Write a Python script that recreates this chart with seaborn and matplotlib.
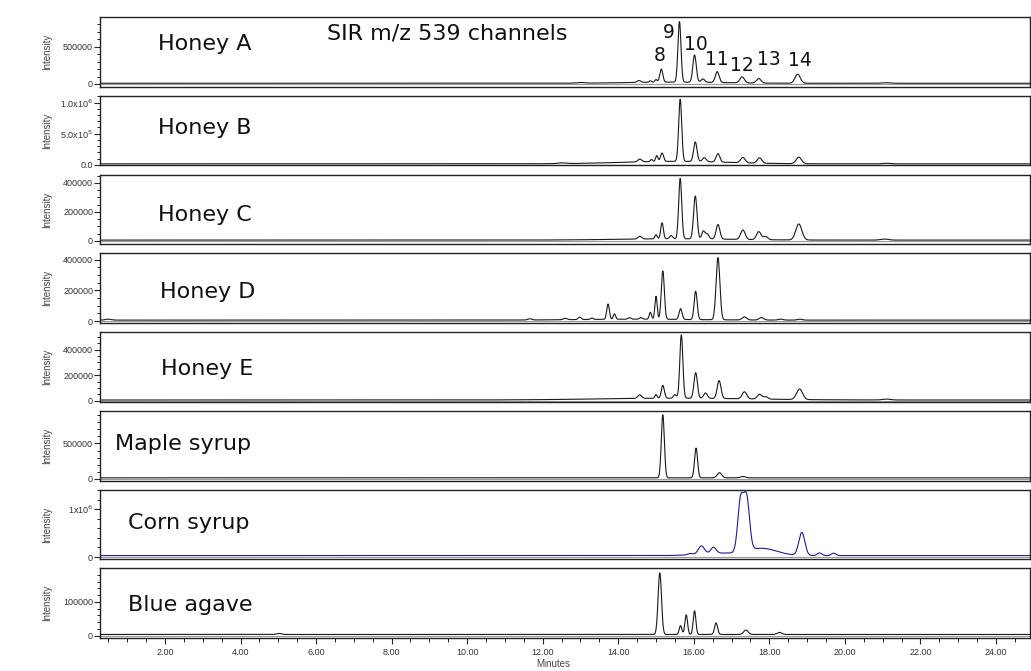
import matplotlib
matplotlib.use("Agg")
import matplotlib.pyplot as plt
import numpy as np
import pandas as pd
import seaborn as sns
from matplotlib.ticker import MultipleLocator, FixedLocator, FixedFormatter, FormatStrFormatter


# sample names, top to bottom
samples = ["Honey A", "Honey B", "Honey C", "Honey D", "Honey E",
           "Maple syrup", "Corn syrup", "Blue agave"]

# peak tables: retention time (min), height, width (min)
honey_a_rt = [13.0, 14.55, 14.85, 15.0, 15.14, 15.62, 16.02, 16.24, 16.62, 17.28, 17.72, 18.75, 21.1, 15.5]
honey_a_h = [8000, 25000, 20000, 35000, 175000, 810000, 365000, 45000, 145000, 80000, 60000, 120000, 7000, 15000]
honey_a_w = [0.1, 0.05, 0.03, 0.03, 0.04, 0.04, 0.045, 0.05, 0.05, 0.06, 0.06, 0.07, 0.1, 1.2]

honey_b_rt = [12.5, 14.57, 14.88, 15.02, 15.16, 15.64, 16.04, 16.28, 16.64, 17.30, 17.74, 18.78, 21.1, 15.5]
honey_b_h = [12000, 45000, 35000, 95000, 135000, 1000000, 315000, 65000, 135000, 85000, 85000, 105000, 9000, 40000]
honey_b_w = [0.1, 0.05, 0.03, 0.03, 0.04, 0.04, 0.045, 0.05, 0.05, 0.06, 0.06, 0.07, 0.1, 1.4]

honey_c_rt = [14.57, 15.0, 15.16, 15.4, 15.64, 16.04, 16.25, 16.35, 16.64, 17.30, 17.72, 17.9, 18.78, 21.05, 15.5]
honey_c_h = [18000, 28000, 110000, 22000, 415000, 295000, 50000, 35000, 100000, 65000, 55000, 22000, 110000, 7000, 9000]
honey_c_w = [0.05, 0.03, 0.035, 0.04, 0.04, 0.045, 0.04, 0.05, 0.05, 0.06, 0.06, 0.06, 0.08, 0.1, 1.5]

honey_d_rt = [0.5, 11.66, 12.6, 12.98, 13.3, 13.73, 13.9, 14.3, 14.6, 14.85, 15.0, 15.18, 15.65, 16.05,
              16.64, 17.34, 17.79, 18.3, 18.8, 14.5]
honey_d_h = [6000, 8000, 9000, 16000, 9000, 100000, 35000, 10000, 10000, 45000, 150000, 315000, 70000, 185000,
             405000, 20000, 16000, 6000, 6000, 6000]
honey_d_w = [0.08, 0.05, 0.05, 0.04, 0.04, 0.035, 0.03, 0.04, 0.04, 0.03, 0.03, 0.04, 0.04, 0.04,
             0.05, 0.06, 0.06, 0.06, 0.06, 1.5]

honey_e_rt = [14.57, 15.0, 15.18, 15.5, 15.67, 16.05, 16.31, 16.67, 17.34, 17.74, 17.9, 18.8, 21.1, 15.5]
honey_e_h = [28000, 28000, 100000, 28000, 495000, 200000, 42000, 140000, 55000, 36000, 18000, 82000, 7000, 14000]
honey_e_w = [0.05, 0.03, 0.04, 0.04, 0.04, 0.045, 0.05, 0.05, 0.06, 0.06, 0.06, 0.08, 0.1, 2.0]

maple_rt = [15.18, 16.06, 16.68, 17.30]
maple_h = [890000, 420000, 72000, 18000]
maple_w = [0.04, 0.04, 0.06, 0.06]

corn_rt = [15.9, 16.2, 16.52, 16.6, 17.24, 17.40, 17.8, 18.86, 19.33, 19.70]
corn_h = [25000, 165000, 125000, 50000, 1080000, 1080000, 150000, 480000, 55000, 50000]
corn_w = [0.06, 0.08, 0.07, 0.5, 0.075, 0.075, 0.4, 0.08, 0.06, 0.06]

agave_rt = [5.02, 15.10, 15.65, 15.80, 16.02, 16.59, 17.38, 18.27]
agave_h = [3000, 182000, 26000, 58000, 70000, 34000, 13000, 6000]
agave_w = [0.06, 0.045, 0.035, 0.035, 0.035, 0.04, 0.06, 0.06]

baselines = [10000, 15000, 6000, 6000, 6000, 15000, 30000, 4000]

# numbered peaks on Honey A
peak_numbers = ["8", "9", "10", "11", "12", "13", "14"]

# y axis ticks per panel
y_ticks = [[0, 500000], [0, 500000, 1000000], [0, 200000, 400000], [0, 200000, 400000],
           [0, 200000, 400000], [0, 500000], [0, 1000000], [0, 100000]]
y_ticklabels = [["0", "500000"], ["0.0", "5.0x10$^{5}$", "1.0x10$^{6}$"],
                ["0", "200000", "400000"], ["0", "200000", "400000"], ["0", "200000", "400000"],
                ["0", "500000"], ["0", "1x10$^{6}$"], ["0", "100000"]]
y_minor = [100000, 100000, 50000, 50000, 50000, 100000, 200000, 20000]
y_lims = [(-36000, 895000), (-11000, 1110000), (-22600, 457000), (-13000, 441600),
          (-8000, 536000), (-24000, 961000), (-48500, 1407000), (-6800, 199000)]

peak_tables = [(honey_a_rt, honey_a_h, honey_a_w), (honey_b_rt, honey_b_h, honey_b_w),
               (honey_c_rt, honey_c_h, honey_c_w), (honey_d_rt, honey_d_h, honey_d_w),
               (honey_e_rt, honey_e_h, honey_e_w), (maple_rt, maple_h, maple_w),
               (corn_rt, corn_h, corn_w), (agave_rt, agave_h, agave_w)]


def trace(t, rt, h, w, base):
    y = np.full_like(t, float(base))
    for r, a, s in zip(rt, h, w):
        y += a * np.exp(-0.5 * ((t - r) / s) ** 2)
    return y


sns.set_style("white")
plt.rcParams['font.family'] = ['DejaVu Sans']

fig, axes = plt.subplots(8, 1, figsize=(10.31, 6.71), dpi=100, sharex=True)
fig.subplots_adjust(left=0.097, right=0.999, top=0.9747, bottom=0.049, hspace=0.13)

t = np.linspace(0.28, 24.9, 3000)
label_y = [0.53, 0.45, 0.333, 0.353, 0.38, 0.445, 0.43, 0.39]
label_x = [0.062, 0.062, 0.062, 0.064, 0.066, 0.016, 0.030, 0.030]
tick_font = ['Liberation Sans', 'DejaVu Sans']

for i, ax in enumerate(axes):
    rt, h, w = peak_tables[i]
    df = pd.DataFrame({'Minutes': t, 'Intensity': trace(t, rt, h, w, baselines[i])})
    color = '#1f1f8c' if samples[i] == "Corn syrup" else '#1a1a1a'
    sns.lineplot(data=df, x='Minutes', y='Intensity', ax=ax, color=color, lw=0.8, estimator=None)
    ax.axhline(0, color='#9a9a9a', lw=0.8, zorder=0)

    ax.set_xlim(0.28, 24.9)
    ax.set_ylim(*y_lims[i])
    ax.yaxis.set_major_locator(FixedLocator(y_ticks[i]))
    ax.yaxis.set_major_formatter(FixedFormatter(y_ticklabels[i]))
    ax.yaxis.set_minor_locator(MultipleLocator(y_minor[i]))
    ax.tick_params(axis='y', which='major', direction='out', length=4, width=0.8,
                   labelsize=6.5, labelcolor='#333333', pad=1, left=True)
    ax.tick_params(axis='y', which='minor', direction='out', length=2.5, width=0.7, left=True)
    for lab in ax.get_yticklabels():
        lab.set_family(tick_font)
    ax.set_ylabel('Intensity', fontsize=7, color='#444444', family=tick_font, labelpad=8)
    ax.yaxis.set_label_coords(-0.052, 0.5)
    ax.set_xlabel('')
    for sp in ax.spines.values():
        sp.set_color('#222222')
        sp.set_linewidth(1.0)

    ax.text(label_x[i], label_y[i], samples[i], transform=ax.transAxes, fontsize=16,
            ha='left', va='baseline', color='#111111')

ax0 = axes[0]
ax0.text(0.244, 0.68, "SIR m/z 539 channels", transform=ax0.transAxes, fontsize=16,
         ha='left', va='baseline', color='#111111')
num_x = [15.11, 15.33, 16.06, 16.60, 17.28, 18.0, 18.80]
num_y = [310000, 616000, 456000, 257000, 177000, 257000, 243000]
for s, x, y in zip(peak_numbers, num_x, num_y):
    ax0.text(x, y, s, fontsize=13.5, ha='center', va='baseline', color='#111111')

axb = axes[-1]
axb.xaxis.set_major_locator(MultipleLocator(2))
axb.xaxis.set_minor_locator(MultipleLocator(0.5))
axb.xaxis.set_major_formatter(FormatStrFormatter('%.2f'))
axb.tick_params(axis='x', which='major', direction='out', length=4, width=0.8,
                labelsize=6.5, labelcolor='#333333', pad=3, bottom=True)
axb.tick_params(axis='x', which='minor', direction='out', length=3, width=0.7, bottom=True)
for lab in axb.get_xticklabels():
    lab.set_family(tick_font)
for ax in axes[:-1]:
    ax.tick_params(axis='x', which='both', bottom=False, labelbottom=False)
axb.set_xlabel('Minutes', fontsize=7, color='#444444', family=tick_font)
axb.xaxis.set_label_coords(0.487, -0.30)

fig.savefig('out.png', dpi=100)
